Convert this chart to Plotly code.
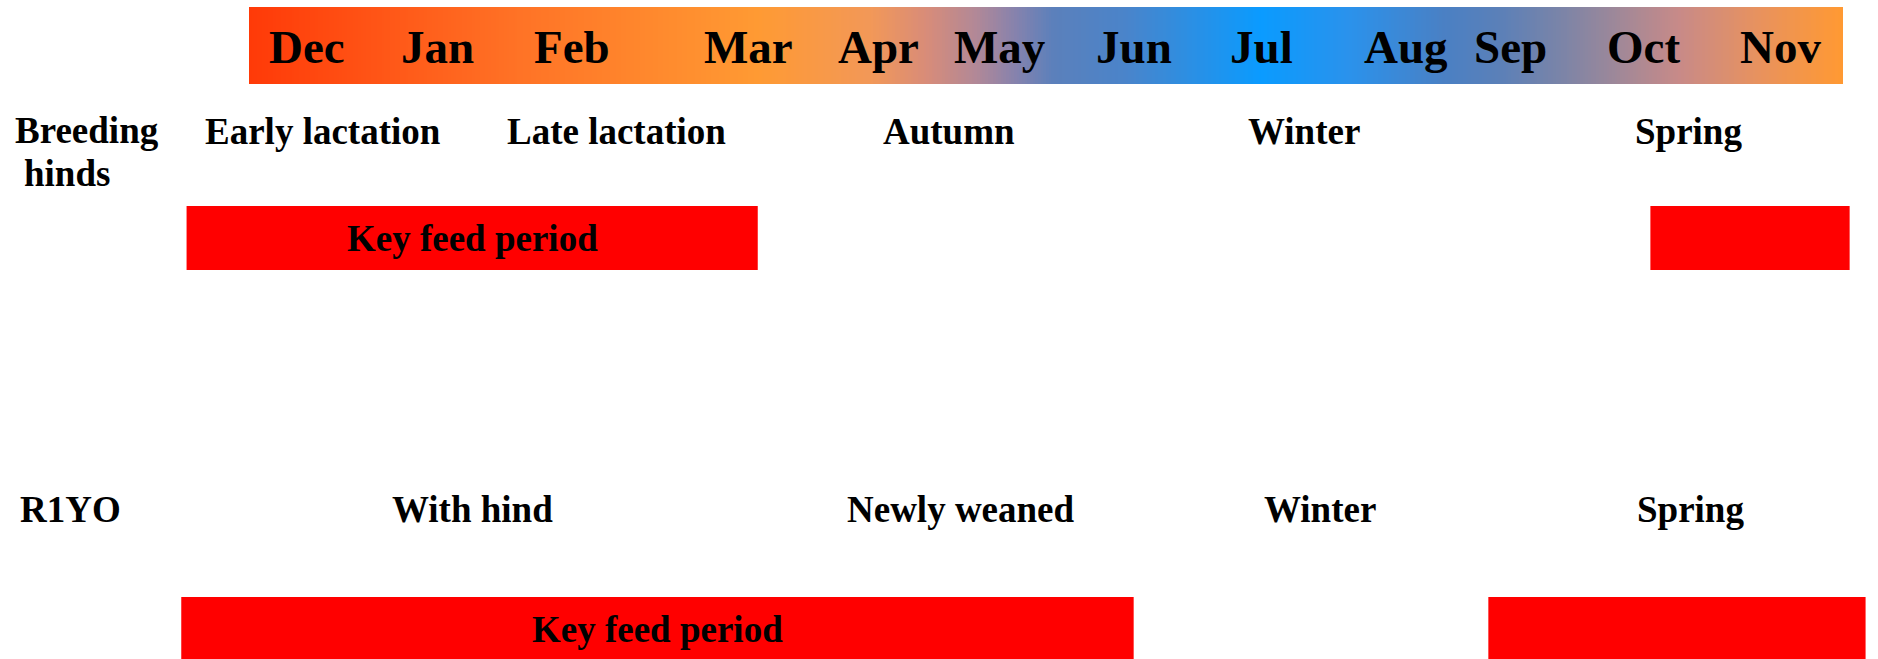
import numpy as np
import plotly.graph_objects as go

# ---------------- data (x in months from start of December) ----------------
months = ["Dec", "Jan", "Feb", "Mar", "Apr", "May", "Jun", "Jul", "Aug", "Sep", "Oct", "Nov"]
month_pos = [0.44, 1.42, 2.43, 3.76, 4.74, 5.65, 6.66, 7.62, 8.71, 9.50, 10.50, 11.53]

hind_phases = ["Early lactation", "Late lactation", "Autumn", "Winter", "Spring"]
hind_phase_pos = [0.56, 2.77, 5.27, 7.94, 10.84]

r1yo_phases = ["With hind", "Newly weaned", "Winter", "Spring"]
r1yo_phase_pos = [1.68, 5.36, 8.06, 10.85]

hind_key_start = [-0.47, 10.55]
hind_key_end = [3.83, 12.05]
hind_key_text = ["Key feed period", ""]

r1yo_key_start = [-0.51, 9.33]
r1yo_key_end = [6.66, 12.17]
r1yo_key_text = ["Key feed period", ""]

# ---------------- layout constants ----------------
W, H = 1878, 659
BAR_L, BAR_R = 249, 1843          # pixel extent of the 12-month band
PPM = (BAR_R - BAR_L) / 12.0      # pixels per month
FONT = "Liberation Serif, Times New Roman, serif"

grad_stops = [
    (0.0, "#FF3A08"), (0.17, "#FF7326"), (0.319, "#FF9A33"), (0.39, "#F29858"),
    (0.424, "#D98C78"), (0.457, "#B08898"), (0.482, "#8482AE"), (0.505, "#5B80BB"),
    (0.55, "#4A84CA"), (0.635, "#0A9BFF"), (0.69, "#2A92EC"), (0.75, "#4A80C4"),
    (0.785, "#5B80B8"), (0.823, "#7A84A8"), (0.86, "#A08898"), (0.898, "#C88A88"),
    (0.948, "#E8925E"), (1.0, "#FF9933"),
]

fig = go.Figure()

# gradient month band
N = 600
edges = np.linspace(0, 12, N + 1)
fig.add_trace(go.Heatmap(
    x=edges, y=[7, 84], z=[np.linspace(0, 1, N)],
    colorscale=[[p, c] for p, c in grad_stops], zmin=0, zmax=1,
    showscale=False, hoverinfo="skip", zsmooth=False,
))

# key feed period bars
def add_bars(starts, ends, yc, texts):
    fig.add_trace(go.Bar(
        orientation="h", base=starts, x=[e - s for s, e in zip(starts, ends)],
        y=[yc] * len(starts), width=64, marker=dict(color="#FF0000", line=dict(width=0)),
        hoverinfo="skip", showlegend=False,
    ))
    for s, e, t in zip(starts, ends, texts):
        if t:
            fig.add_annotation(x=(s + e) / 2, y=yc, text=f"<b>{t}</b>", showarrow=False,
                               font=dict(family=FONT, size=37, color="black"),
                               xanchor="center", yanchor="middle")

add_bars(hind_key_start, hind_key_end, 238, hind_key_text)
add_bars(r1yo_key_start, r1yo_key_end, 629, r1yo_key_text)

def label(x, y, t, size=37, xanchor="center"):
    fig.add_annotation(x=x, y=y, text=f"<b>{t}</b>", showarrow=False,
                       font=dict(family=FONT, size=size, color="black"),
                       xanchor=xanchor, yanchor="middle")

for m, p in zip(months, month_pos):
    label(p, 47, m, size=47)
for t, p in zip(hind_phases, hind_phase_pos):
    label(p, 131, t)
for t, p in zip(r1yo_phases, r1yo_phase_pos):
    label(p, 509, t)

label(-1.223, 130, "Breeding")
label(-1.370, 173, "hinds")
label(-1.344, 509, "R1YO")

fig.update_layout(
    width=W, height=H, margin=dict(l=0, r=0, t=0, b=0),
    paper_bgcolor="white", plot_bgcolor="white", barmode="overlay", showlegend=False,
    xaxis=dict(range=[-BAR_L / PPM, (W - BAR_L) / PPM], visible=False, fixedrange=True),
    yaxis=dict(range=[H, 0], visible=False, fixedrange=True),
)

fig.write_html("out.html", config={"displayModeBar": False},
               post_script="document.body.style.margin='0px';document.body.style.overflow='hidden';")
